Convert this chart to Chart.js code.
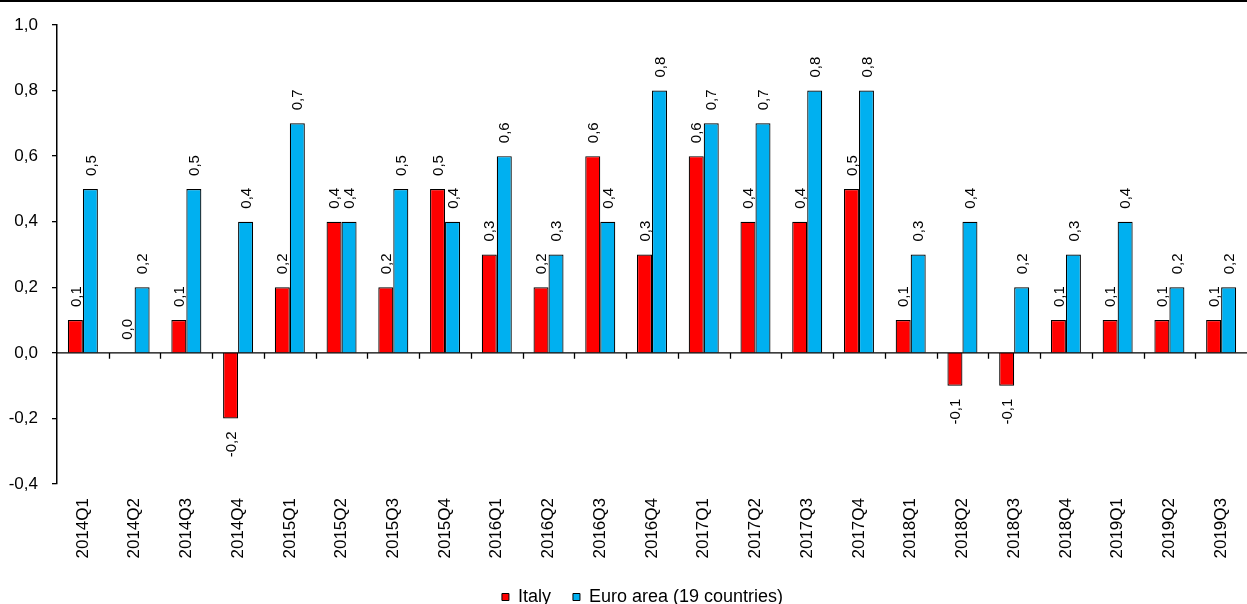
<!DOCTYPE html>
<html>
<head>
<meta charset="utf-8">
<script src="https://cdn.jsdelivr.net/npm/chart.js@4"></script>
<style>
  html, body { margin: 0; padding: 0; background: #fff; }
  #wrap { width: 1247px; height: 604px; position: relative; }
</style>
</head>
<body>
<div id="wrap"><canvas id="grafico"></canvas></div>
<script>
// dati
const trimestri = ["2014Q1", "2014Q2", "2014Q3", "2014Q4", "2015Q1", "2015Q2", "2015Q3", "2015Q4",
  "2016Q1", "2016Q2", "2016Q3", "2016Q4", "2017Q1", "2017Q2", "2017Q3", "2017Q4",
  "2018Q1", "2018Q2", "2018Q3", "2018Q4", "2019Q1", "2019Q2", "2019Q3"];
const italia = [0.1, 0.0, 0.1, -0.2, 0.2, 0.4, 0.2, 0.5, 0.3, 0.2, 0.6, 0.3, 0.6, 0.4, 0.4, 0.5,
  0.1, -0.1, -0.1, 0.1, 0.1, 0.1, 0.1];
const euroArea = [0.5, 0.2, 0.5, 0.4, 0.7, 0.4, 0.5, 0.4, 0.6, 0.3, 0.4, 0.8, 0.7, 0.7, 0.8, 0.8,
  0.3, 0.4, 0.2, 0.3, 0.4, 0.2, 0.2];
const etichetteSerie = ["Italy", "Euro area (19 countries)"];

const FONT = "'Liberation Sans', Arial, sans-serif";
const virgola = v => {
  const r = Math.round(Number(v) * 10) / 10;
  return (r === 0 ? 0 : r).toFixed(1).replace(".", ",");
};

// linea nera in alto, asse dello zero e tacche tra le categorie
const cornice = {
  id: "cornice",
  afterLayout(chart) {
    // sposta la legenda un po' a destra come nell'originale
    chart.legend.left += 38;
  },
  afterDraw(chart) {
    const ctx = chart.ctx;
    const area = chart.chartArea;
    const y0 = chart.scales.y.getPixelForValue(0);
    const n = trimestri.length;
    const passo = (area.right - area.left) / n;
    ctx.save();
    ctx.fillStyle = "#000";
    ctx.fillRect(0, 0, chart.width, 2);
    ctx.strokeStyle = "#000";
    ctx.lineWidth = 1.3;
    ctx.beginPath();
    ctx.moveTo(area.left, y0);
    ctx.lineTo(area.right, y0);
    for (let i = 1; i < n; i++) {
      const x = Math.round(area.left + i * passo) + 0.5;
      ctx.moveTo(x, y0);
      ctx.lineTo(x, y0 + 6);
    }
    ctx.stroke();
    ctx.restore();
  }
};

// etichette dei valori, ruotate in verticale
const etichetteValori = {
  id: "etichetteValori",
  afterDatasetsDraw(chart) {
    const ctx = chart.ctx;
    ctx.save();
    ctx.fillStyle = "#000";
    ctx.font = "15px " + FONT;
    ctx.textBaseline = "middle";
    chart.data.datasets.forEach((ds, di) => {
      const meta = chart.getDatasetMeta(di);
      meta.data.forEach((bar, i) => {
        const v = ds.data[i];
        ctx.save();
        if (v >= 0) {
          ctx.translate(bar.x, bar.y - 13);
          ctx.rotate(-Math.PI / 2);
          ctx.textAlign = "left";
        } else {
          ctx.translate(bar.x, bar.y + 13);
          ctx.rotate(-Math.PI / 2);
          ctx.textAlign = "right";
        }
        ctx.fillText(virgola(v), 0, 1);
        ctx.restore();
      });
    });
    ctx.restore();
  }
};

new Chart(document.getElementById("grafico"), {
  type: "bar",
  data: {
    labels: trimestri,
    datasets: [
      { label: etichetteSerie[0], data: italia, backgroundColor: "#FF0000", borderColor: "#000", borderWidth: 1.2 },
      { label: etichetteSerie[1], data: euroArea, backgroundColor: "#00B0F0", borderColor: "#000", borderWidth: 1.2 }
    ]
  },
  options: {
    responsive: true,
    maintainAspectRatio: false,
    animation: false,
    layout: { padding: { top: 25, right: 0, left: 0, bottom: -12 } },
    datasets: { bar: { categoryPercentage: 0.58, barPercentage: 1 } },
    plugins: {
      tooltip: { enabled: false },
      legend: {
        position: "bottom",
        labels: {
          color: "#000",
          font: { family: FONT, size: 18 },
          boxWidth: 7,
          boxHeight: 7,
          padding: 22,
          generateLabels(chart) {
            return chart.data.datasets.map((ds, i) => ({
              text: ds.label,
              fillStyle: ds.backgroundColor,
              strokeStyle: "#000",
              lineWidth: 1,
              datasetIndex: i
            }));
          }
        }
      }
    },
    scales: {
      x: {
        afterFit(scale) {
          scale.paddingLeft = 0;
          scale.paddingRight = 0;
          scale.height = 82;
        },
        grid: { display: false, drawTicks: false },
        border: { display: false },
        ticks: {
          color: "#000",
          font: { family: FONT, size: 17 },
          minRotation: 90,
          maxRotation: 90,
          padding: 14,
          autoSkip: false
        }
      },
      y: {
        min: -0.4,
        max: 1.0,
        afterFit(scale) { scale.width = 57; },
        grid: { drawOnChartArea: false, drawTicks: true, tickLength: 5, color: "#000", lineWidth: 1.3 },
        border: { display: true, color: "#000", width: 1.5 },
        ticks: {
          stepSize: 0.2,
          color: "#000",
          font: { family: FONT, size: 17 },
          padding: 14,
          callback: v => virgola(v)
        }
      }
    }
  },
  plugins: [cornice, etichetteValori]
});
</script>
</body>
</html>
